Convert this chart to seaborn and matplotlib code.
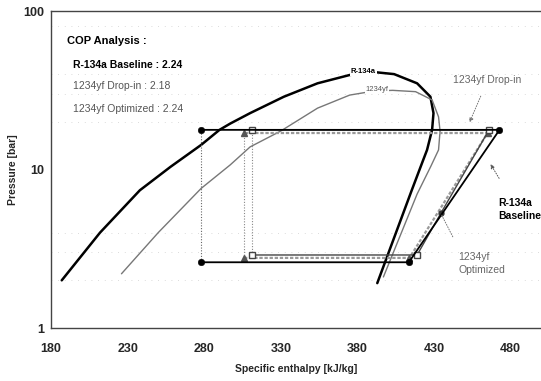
import matplotlib
matplotlib.use("Agg")
from matplotlib import pyplot as plt
from matplotlib.ticker import FixedLocator, NullFormatter
import seaborn as sns
import pandas as pd

# saturation dome (h in kJ/kg, p in bar)
r134a_h = [187, 212, 238, 258, 278, 290, 297, 310, 332, 354, 375, 390,
           404, 419, 427.7, 429.7, 428.8, 425.5, 423, 415.5, 393]
r134a_p = [2.0, 4.0, 7.4, 10.4, 14.3, 17.8, 19.5, 22.7, 28.8, 35.0, 39.5, 41.3,
           40.0, 35.0, 28.8, 22.7, 17.8, 13.3, 11.5, 7.4, 1.92]
yf_h = [226, 250, 278, 297, 310, 330, 354, 375, 391, 403,
        418, 428.8, 433, 434, 433, 428, 419, 397]
yf_p = [2.2, 4.0, 7.6, 10.7, 13.9, 17.5, 24.4, 29.5, 31.3, 31.6,
        31.0, 27.5, 21.5, 17.5, 13.3, 10.5, 7.0, 2.1]

# cycles: evaporator out -> compressor out -> condenser out, then expansion
base_h = [278, 413.6, 472.8, 278]
base_p = [2.6, 2.6, 17.8, 17.8]
dropin_h = [306, 414, 465, 306]
dropin_p = [2.77, 2.77, 17.0, 17.0]
optim_h = [311, 419, 434.5, 466, 311]
optim_p = [2.89, 2.89, 5.3, 17.8, 17.8]

cop_labels = ["R-134a Baseline : 2.24", "1234yf Drop-in : 2.18", "1234yf Optimized : 2.24"]


def path(ax, h, p, **kw):
    df = pd.DataFrame({"h": h, "p": p})
    sns.lineplot(data=df, x="h", y="p", sort=False, estimator=None, ax=ax, **kw)


sns.set_theme(style="white")
plt.rcParams['font.family'] = ['Liberation Sans', 'DejaVu Sans']

fig = plt.figure(figsize=(5.41, 3.81), dpi=100)
ax = fig.add_axes([0.0943, 0.139, 0.906, 0.832])

path(ax, r134a_h, r134a_p, color="black", linewidth=1.8)
path(ax, yf_h, yf_p, color="#777777", linewidth=1.0)

# drop-in cycle
path(ax, dropin_h, dropin_p, color="#9a9a9a", linewidth=1.6, linestyle=(0, (1.5, 0.8)))
path(ax, [dropin_h[0], dropin_h[-1]], [dropin_p[0], dropin_p[-1]], color="#888888",
     linewidth=0.8, linestyle=(0, (1, 1.5)))
ax.plot(dropin_h, dropin_p, linestyle="none", marker="^", markersize=4.5, color="#555555")

# optimized cycle
path(ax, optim_h, optim_p, color="#444444", linewidth=1.0)
path(ax, [optim_h[0], optim_h[-1]], [optim_p[0], optim_p[-1]], color="#888888",
     linewidth=0.8, linestyle=(0, (1, 1.5)))
ax.plot([optim_h[i] for i in (0, 1, 3, 4)], [optim_p[i] for i in (0, 1, 3, 4)],
        linestyle="none", marker="s", markersize=4, markerfacecolor="white",
        markeredgecolor="#444444", markeredgewidth=1)
ax.plot(optim_h[2], optim_p[2], marker="o", markersize=3.5, color="#333333")

# baseline cycle
path(ax, base_h, base_p, color="black", linewidth=1.3)
path(ax, [base_h[0], base_h[-1]], [base_p[0], base_p[-1]], color="#666666",
     linewidth=0.8, linestyle=(0, (1, 1.5)))
sns.scatterplot(x=base_h, y=base_p, color="black", s=22, edgecolor="black", zorder=5, ax=ax)

ax.set_yscale("log")
ax.set_xlim(180, 500)
ax.set_ylim(1, 100)
ax.xaxis.set_major_locator(FixedLocator([180, 230, 280, 330, 380, 430, 480]))
ax.yaxis.set_major_locator(FixedLocator([1, 10, 100]))
ax.yaxis.set_minor_locator(FixedLocator([2, 3, 4, 20, 30, 40, 80]))
ax.yaxis.set_minor_formatter(NullFormatter())
ax.set_yticklabels(["1", "10", "100"])
ax.tick_params(axis="both", which="major", direction="out", length=3, width=0.8,
               labelsize=9, color="#333333", pad=2)
ax.tick_params(axis="y", which="minor", length=0)
for lab in ax.get_xticklabels() + ax.get_yticklabels():
    lab.set_fontweight("bold")
ax.xaxis.set_tick_params(pad=8)
ax.grid(which="minor", axis="y", color="#cfcfcf", linewidth=0.6, linestyle=(0, (1, 7)))

for side in ["left", "bottom", "top"]:
    ax.spines[side].set_color("#444444")
    ax.spines[side].set_linewidth(1.0)
    ax.spines[side].set_linestyle((0, (3, 1)))
ax.spines["right"].set_visible(False)

ax.set_xlabel("Specific enthalpy [kJ/kg]", fontsize=7.5, fontweight="bold", labelpad=6)
ax.set_ylabel("Pressure [bar]", fontsize=7.5, fontweight="bold", labelpad=4)

# COP box text
ax.text(190.5, 62, "COP Analysis :", fontsize=8, fontweight="bold", color="black")
ax.text(194.5, 44, cop_labels[0], fontsize=7.5, color="black", fontweight="semibold")
ax.text(194.5, 32, cop_labels[1], fontsize=7.5, color="#555555")
ax.text(194.5, 23.2, cop_labels[2], fontsize=7.5, color="#555555")

# curve labels
ax.text(384, 41.5, "R-134a", fontsize=5.5, fontweight="bold", color="black",
        ha="center", va="center", bbox=dict(facecolor="white", edgecolor="none", pad=0.5))
ax.text(393, 31.8, "1234yf", fontsize=5.5, color="#555555", ha="center", va="center",
        bbox=dict(facecolor="white", edgecolor="none", pad=0.5))

# annotations
ax.annotate("1234yf Drop-in", xy=(452.5, 19.1), xytext=(465, 36.6), fontsize=7.5,
            color="#666666", ha="center", va="center",
            arrowprops=dict(arrowstyle="-|>", color="#777777", lw=0.7, linestyle=":",
                            mutation_scale=6, shrinkA=6))
ax.annotate("R-134a\nBaseline", xy=(466, 11.2), xytext=(472, 5.6), fontsize=7.5,
            fontweight="bold", color="black", ha="left", va="center", linespacing=1.3,
            arrowprops=dict(arrowstyle="-|>", color="#555555", lw=0.7, linestyle=":",
                            mutation_scale=6, shrinkA=14, relpos=(0.3, 1)))
ax.annotate("1234yf\nOptimized", xy=(434, 5.4), xytext=(446, 2.55), fontsize=7.5,
            color="#666666", ha="left", va="center", linespacing=1.3,
            arrowprops=dict(arrowstyle="-", color="#777777", lw=0.7, linestyle=":",
                            shrinkA=10, relpos=(0.05, 1)))

fig.savefig("out.png", dpi=100)
